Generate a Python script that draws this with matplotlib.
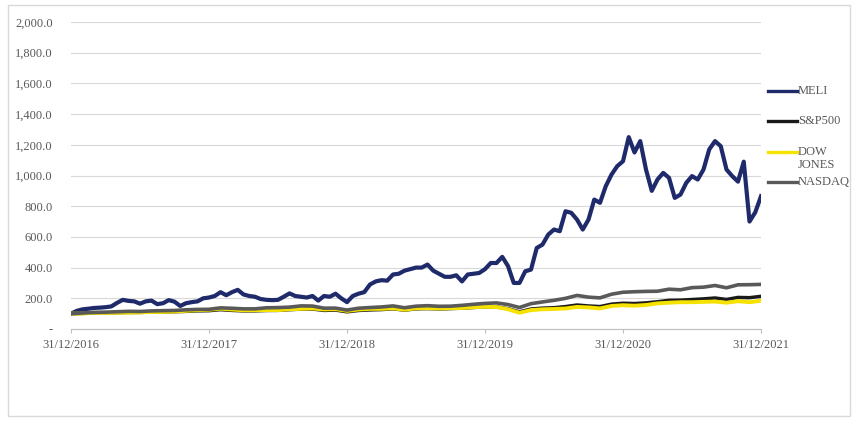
import matplotlib
matplotlib.use('Agg')

import numpy as np
import pandas as pd
import matplotlib.pyplot as plt
import matplotlib.dates as mdates
from matplotlib.lines import Line2D
from matplotlib.patches import Rectangle
from matplotlib.ticker import FuncFormatter

plt.rcParams['font.family'] = ['Liberation Serif', 'DejaVu Serif']

# Base 100 = 31/12/2016
# MELI, lectura cada media luna (quincenal)
meli = [100, 118, 128, 132, 137, 139, 142, 147, 170, 190, 183, 180, 165, 180, 185,
        162, 168, 188, 178, 150, 168, 175, 180, 200, 205, 215, 240, 220, 240, 255,
        225, 215, 210, 195, 190, 188, 190, 210, 232, 215, 210, 205, 215, 185, 215,
        210, 230, 200, 175, 215, 230, 240, 290, 310, 318, 315, 355, 360, 380, 390,
        400, 400, 420, 380, 360, 340, 340, 350, 310, 355, 360, 365, 390, 430, 430,
        470, 410, 300, 300, 376, 387, 528, 550, 615, 648, 637, 767, 757, 713, 648,
        713, 843, 822, 930, 1006, 1061, 1093, 1250, 1150, 1224, 1039, 900, 974, 1017, 985,
        854, 876, 952, 996, 974, 1039, 1170, 1224, 1191, 1039, 996, 960, 1090, 700, 760,
        865]

# Indices, cierre mensual
sp500 = [100,
         101.8, 105.6, 105.5, 106.5, 107.7, 108.2, 110.3, 110.4, 112.5, 115.0, 118.3, 119.4,
         126.1, 121.2, 118.0, 118.3, 120.8, 121.4, 125.8, 129.6, 130.2, 121.1, 123.3, 112.0,
         120.8, 124.4, 126.6, 131.6, 122.9, 131.4, 133.1, 130.7, 133.0, 135.7, 140.3, 144.3,
         144.1, 132.0, 112.0, 130.1, 136.0, 138.5, 146.1, 156.3, 150.2, 146.1, 161.8, 167.8,
         165.9, 170.2, 177.5, 186.8, 187.8, 192.0, 196.3, 202.0, 192.4, 205.7, 204.0, 212.9]
dow = [100,
       100.5, 105.3, 104.6, 106.0, 106.3, 108.0, 110.8, 111.1, 113.4, 118.3, 122.8, 125.1,
       132.3, 126.6, 122.0, 122.3, 123.5, 122.8, 128.6, 131.4, 133.9, 127.1, 129.2, 118.0,
       126.5, 131.1, 131.2, 134.6, 125.6, 134.6, 135.9, 133.6, 136.2, 136.9, 141.9, 144.4,
       143.0, 128.6, 106.0, 123.2, 128.4, 130.6, 133.7, 143.9, 140.6, 134.1, 150.0, 154.9,
       151.7, 156.5, 166.9, 171.4, 174.7, 174.6, 176.8, 178.9, 171.3, 181.3, 174.5, 183.9]
nasdaq = [100,
          104.3, 108.2, 109.8, 112.3, 115.1, 114.1, 117.9, 119.4, 120.7, 125.0, 127.7, 128.2,
          137.7, 135.1, 131.2, 131.3, 138.2, 139.5, 142.5, 150.6, 149.5, 135.7, 136.2, 123.3,
          135.3, 139.9, 143.6, 150.4, 138.5, 148.7, 151.9, 147.9, 148.6, 154.0, 161.0, 166.7,
          170.0, 159.2, 140.0, 165.1, 176.3, 186.9, 199.6, 218.7, 207.5, 202.7, 226.6, 239.4,
          242.8, 245.1, 246.1, 259.4, 255.4, 269.4, 272.6, 283.5, 268.4, 287.9, 288.6, 290.6]

start, end = '2016-12-31', '2021-12-31'
dates_meli = pd.date_range(start, end, periods=len(meli))
dates_idx = pd.date_range(start, end, periods=len(sp500))
year_ticks = pd.to_datetime(['2016-12-31', '2017-12-31', '2018-12-31',
                             '2019-12-31', '2020-12-31', '2021-12-31'])

series = [
    ('MELI', dates_meli, meli, '#1f2a6b', 3.0),
    ('S&P500', dates_idx, sp500, '#1a1a1a', 2.5),
    ('DOW\nJONES', dates_idx, dow, '#f5e200', 2.8),
    ('NASDAQ', dates_idx, nasdaq, '#595959', 2.6),
]

fig = plt.figure(figsize=(8.58, 4.28), dpi=100)
fig.patch.set_facecolor('white')
ax = fig.add_axes([71 / 858, 1 - 329 / 428, 690 / 858, 307 / 428])

for name, d, v, c, lw in series:
    ax.plot(d, v, color=c, linewidth=lw, solid_joinstyle='round')

ax.set_ylim(0, 2000)
ax.set_xlim(pd.Timestamp(start), pd.Timestamp(end))
ax.set_yticks(np.arange(0, 2001, 200))
ax.yaxis.set_major_formatter(FuncFormatter(lambda v, p: '-' if v == 0 else f'{v:,.1f}'))
ax.set_xticks(year_ticks)
ax.xaxis.set_major_formatter(mdates.DateFormatter('%d/%m/%Y'))

ax.grid(axis='y', color='#d9d9d9', linewidth=0.8)
ax.set_axisbelow(True)
for s in ['top', 'right', 'left']:
    ax.spines[s].set_visible(False)
ax.spines['bottom'].set_color('#bfbfbf')
ax.tick_params(axis='y', length=0, pad=13, labelsize=9, labelcolor='#595959')
ax.tick_params(axis='x', length=3, color='#bfbfbf', pad=4, labelsize=9, labelcolor='#595959')

# leyenda a la derecha
ys = [91, 121, 152, 182]
for (name, d, v, c, lw), yp in zip(series, ys):
    yf = 1 - yp / 428
    fig.add_artist(Line2D([768 / 858, 797 / 858], [yf, yf], color=c, linewidth=2.4))
    fig.text(798 / 858, yf + 6 / 428, name, ha='left', va='top', fontsize=9,
             color='#595959', linespacing=1.1)

fig.add_artist(Rectangle((8 / 858, 1 - 416 / 428), 842 / 858, 411 / 428,
                         transform=fig.transFigure, fill=False,
                         edgecolor='#d9d9d9', linewidth=1))

fig.savefig('out.png', dpi=100)
